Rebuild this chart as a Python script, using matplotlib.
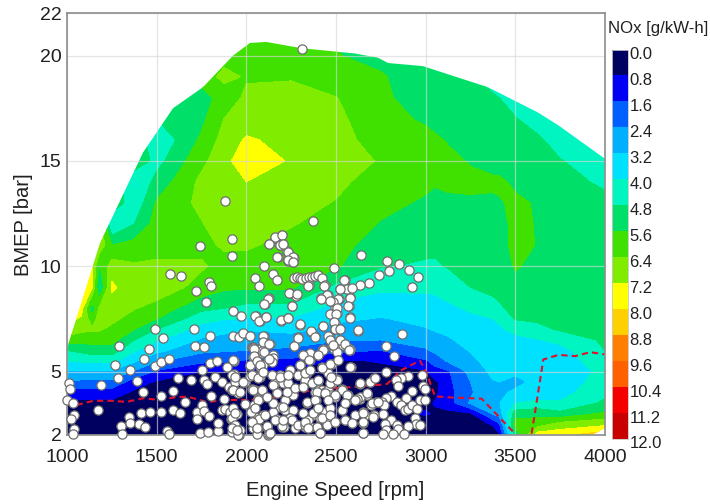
import numpy as np
import matplotlib
matplotlib.use('Agg')
import matplotlib.pyplot as plt
from matplotlib.colors import ListedColormap, BoundaryNorm
from matplotlib.patches import Polygon
from matplotlib.transforms import ScaledTranslation

plt.rcParams['font.family'] = ['Liberation Sans', 'DejaVu Sans']

# NOx map: one row per speed, one value per bmep
speed_grid = [1000, 1080, 1140, 1180, 1250, 1375, 1500, 1750, 1875, 2000, 2250, 2500,
              2750, 3000, 3050, 3125, 3250, 3375, 3410, 3500, 3625, 3750, 4000]
bmep_grid = [2, 2.5, 3, 3.5, 4, 4.5, 5, 5.5, 6, 6.5, 7, 7.5, 8,
             9, 10, 11, 12, 13, 14, 15, 16, 17, 18, 19, 20, 21]
nox_grid = [
    [.2, .3, .4, .6, 1.3, 2.4, 3.1, 4.0, 4.8, 6, 7, 7.4, 7.4, 7, 6, 6, 6, 6, 6, 6, 6, 6, 6, 6, 6, 6],
    [.2, .3, .4, .6, 1.2, 2.2, 3.1, 4.1, 5.0, 5.9, 6.6, 7.1, 7.5, 7.5, 6, 6, 6, 6, 6, 6, 6, 6, 6, 6, 6, 6],
    [.2, .3, .4, .6, 1.2, 2.2, 3.1, 4.2, 5.2, 5.9, 6.5, 6.0, 5.0, 7.3, 7.3, 7, 7, 7, 7, 7, 7, 7, 7, 7, 7, 7],
    [.2, .3, .4, .6, 1.2, 2.2, 3.1, 4.2, 5.2, 5.9, 6.5, 6.7, 6.5, 4.7, 5.5, 7, 7, 7, 7, 7, 7, 7, 7, 7, 7, 7],
    [.2, .3, .4, .6, 1.2, 2.2, 3.1, 4.2, 5.2, 5.9, 6.2, 6.6, 6.8, 7.35, 6.8, 5.6, 3.9, 5.5, 5.5, 5.5, 5.5, 5.5, 5.5, 5.5, 5.5, 5.5],
    [.2, .3, .4, .5, .65, 1.2, 2.3, 3.3, 4.1, 4.8, 5.6, 6.05, 6.45, 6.7, 6.5, 5.9, 4.8, 4.2, 3.9, 5.5, 5.5, 5.5, 5.5, 5.5, 5.5, 5.5],
    [.2, .3, .4, .5, .6, .7, 1.5, 2.5, 3.4, 4.1, 4.8, 5.6, 6.1, 6.9, 6.5, 6.2, 5.95, 5.7, 5.1, 4.5, 4.1, 4.8, 5.2, 5.2, 5.2, 5.2],
    [.2, .3, .4, .5, .6, .7, .8, 1.8, 2.6, 3.1, 3.65, 4.3, 5.0, 6.1, 6.5, 6.2, 6.35, 6.6, 6.6, 6.2, 5.75, 5.4, 5.4, 5.8, 5.8, 5.8],
    [.2, .3, .4, .5, .6, .7, .8, 1.7, 2.5, 2.95, 3.4, 4.05, 4.8, 5.75, 6.15, 6.5, 6.8, 6.9, 6.95, 6.9, 6.7, 6.4, 5.8, 6.7, 6, 6],
    [.2, .3, .4, .5, .6, .7, .7, 1.5, 2.4, 2.8, 3.25, 3.95, 4.55, 5.7, 6.1, 6.5, 6.8, 7.0, 7.2, 7.8, 7.3, 6.8, 6.6, 6.3, 5.85, 5.7],
    [.2, .3, .4, .5, .6, .7, .7, 1.4, 2.2, 2.85, 3.4, 3.9, 4.55, 5.7, 5.95, 6.15, 6.45, 6.7, 6.95, 7.1, 6.95, 6.8, 6.6, 6.35, 5.85, 5.7],
    [.2, .3, .4, .5, .6, .7, .6, .7, 1.8, 2.5, 2.95, 3.35, 3.7, 4.6, 5.7, 5.9, 6.1, 6.35, 6.6, 6.7, 6.7, 6.6, 6.42, 6, 5.65, 5.5],
    [.2, .3, .4, .5, .6, .7, .6, .85, 1.6, 2.4, 2.8, 3.15, 3.5, 4.15, 4.85, 5.2, 5.55, 5.8, 6.0, 6.35, 6.05, 5.85, 5.8, 5.7, 5.3, 5.2],
    [.2, .3, .9, .6, .4, .5, .7, 1.5, 2.3, 2.75, 3.15, 3.4, 3.65, 4.15, 4.7, 5.0, 5.25, 5.5, 5.75, 5.9, 5.8, 5.5, 5.1, 5.0, 4.9, 4.9],
    [.2, .3, .7, .85, .6, .6, 1.3, 1.9, 2.55, 2.95, 3.25, 3.45, 3.7, 4.15, 4.7, 4.95, 5.2, 5.45, 5.65, 5.8, 5.7, 5.4, 5.1, 4.95, 4.9, 4.9],
    [.2, .3, .6, 1.2, 1.3, 1.4, 1.5, 2.5, 2.85, 3.1, 3.4, 3.6, 3.85, 4.35, 4.85, 5.0, 5.15, 5.45, 5.75, 5.75, 5.55, 5.2, 5, 4.9, 4.9, 4.9],
    [.2, .3, .7, 2.5, 2.3, 2.4, 2.65, 3, 3.25, 3.5, 3.65, 3.85, 4.1, 4.8, 4.95, 5.1, 5.3, 5.5, 5.75, 5.55, 5.3, 5.1, 4.95, 4.85, 4.8, 4.8],
    [.2, .9, 2.5, 2.9, 3.0, 3.15, 3.4, 3.55, 3.65, 3.75, 3.85, 4, 4.6, 4.95, 5.05, 5.15, 5.3, 5.5, 5.7, 5.4, 5.2, 5, 4.85, 4.6, 4.6, 4.6],
    [.7, 1.5, 2.8, 3.15, 3.1, 3.2, 3.4, 3.55, 3.65, 3.8, 3.9, 4.1, 4.7, 5, 5.1, 5.2, 5.35, 5.55, 5.7, 5.35, 5.15, 5, 4.8, 4.6, 4.6, 4.6],
    [5, 6.0, 5.2, 4.0, 3.3, 3.05, 3.3, 3.5, 3.65, 3.8, 4.2, 4.85, 5.0, 5.3, 5.7, 5.9, 5.8, 5.7, 5.5, 5.1, 5, 4.85, 4.4, 4.4, 4.4, 4.4],
    [7.6, 6.0, 5.35, 4.2, 3.5, 3.35, 3.4, 3.6, 3.8, 3.95, 4.55, 4.95, 5.05, 5.2, 5.3, 5.55, 5.55, 5.55, 5.2, 5.05, 4.95, 4.4, 4.2, 4.2, 4.2, 4.2],
    [7.7, 6.7, 5.0, 4.1, 3.7, 3.5, 3.5, 3.6, 3.75, 4.2, 4.9, 5, 5.05, 5.1, 5.1, 5.1, 5.1, 5.05, 5, 4.85, 4.4, 4.1, 4.1, 4.1, 4.1, 4.1],
    [8.5, 7, 5.75, 4.95, 4.6, 4.4, 4.2, 4.45, 4.8, 4.95, 5.05, 5.1, 5.1, 5.1, 5.1, 5.1, 5, 4.95, 4.7, 4.25, 4, 4, 4, 4, 4, 4],
]

# outline of the measured region
edge_speed = [1000, 1184, 1424, 1591, 1758, 1926, 2020, 2110, 2310, 2606, 2734, 2790,
              2985, 3347, 3626, 3738, 4000, 4000, 3930, 1000]
edge_bmep = [6.1, 11.1, 15.4, 17.5, 18.5, 20, 20.6, 20.65, 20.35, 20.1, 19.9, 19.65,
             19.5, 18.5, 17.3, 16.7, 15.1, 2.3, 2, 2]

nox_levels = [0.0, 0.8, 1.6, 2.4, 3.2, 4.0, 4.8, 5.6, 6.4, 7.2, 8.0, 8.8, 9.6, 10.4, 11.2, 12.0]
nox_colors = ['#000060', '#0000f5', '#0060ff', '#00b0ff', '#00e0ff', '#00f5c0', '#00e068',
              '#40e000', '#80ec00', '#ffff00', '#ffd000', '#ff8000', '#ff6000', '#f50000', '#c80000']

# operating points
point_speed = [
    2310, 1881, 2373, 1918, 1742, 2127, 2160, 2199, 2188, 2205, 2227, 1922, 2175, 2236, 2230, 2260, 2264,
    2097, 2487, 1576, 1638, 1790, 1803, 1721, 1777, 2047, 2073, 2147, 2171, 2264, 2280, 2298, 2312, 2330,
    2350, 2366, 2385, 2400, 2420, 2348, 2437, 2550, 2242, 2279, 2255, 2418, 2454, 2125, 2106, 2524, 2543,
    2571, 2580, 2571, 2487, 2515, 2497, 2478, 2506, 2576, 1924, 1972, 2054, 2078, 2110, 2231, 2194, 2301,
    2426, 2493, 2497, 2524, 1493, 1535, 1706, 1799, 1924, 1957, 1980, 2019, 2097, 2288, 2363, 2385, 2459,
    2468, 2524, 2097, 2134, 2268, 1292, 1459, 1712, 1766, 2032, 2422, 2487, 2576, 2497, 1428, 1270, 1493,
    1526, 1567, 1353, 1283, 1390, 1191, 1424, 1617, 1591, 1753, 1796, 1837, 1930, 1892, 2022, 1692, 1762,
    1781, 1827, 1864, 1933, 1939, 1995, 1902, 1930, 1957, 1803, 1874, 1524, 1660, 1995, 1009, 1019, 1000,
    1032, 1041, 1022, 1041, 1032, 1171, 1344, 1353, 1400, 1433, 1301, 1309, 1413, 1465, 1526, 1591, 1632,
    1558, 1567, 1740, 1786, 1840, 1840, 1725, 1725, 1753, 1762, 1790, 1864, 1883, 1911, 1948, 1915, 1930,
    1939, 1920, 1959,
    1928, 1918, 1937, 1918, 1955, 1928, 1918, 1937, 1965, 1955, 1993, 2039, 2076, 2086, 2039, 2151, 2123,
    2095, 2021, 2039, 2076, 2048, 2086, 2067, 2039, 2095, 2048, 2030, 2039, 2067, 2113, 2123, 2141, 2188,
    2244, 2160, 2206, 2234, 2234, 2169, 2262, 2216, 2188, 2151, 2216, 2262, 2244, 2169, 2197, 2271, 2318,
    2327, 2299, 2290, 2337, 2355, 2318, 2355, 2402, 2430, 2476, 2504, 2541, 2578, 2476, 2420, 2457, 2508,
    2402, 2364, 2327, 2337, 2389, 2402, 2374, 2411, 2439, 2467, 2476, 2448, 2495, 2550, 2588, 2355, 2411,
    2448, 2383, 2402, 2420, 2439, 2457, 2476, 2467, 2495, 2532, 2569, 2560, 2532, 2606, 2634, 2671, 2582,
    2638, 2786, 2851, 2909, 2959, 2797, 2740, 2686, 2634, 2922, 2866, 2625, 2781, 2825, 2779, 2903, 2978,
    2863, 2833, 2714, 2690, 2634, 2848, 2987, 2996, 2926, 2890, 2968, 2996, 2671, 2634, 2615, 2807, 2779,
    2755, 2721, 2693, 2770, 2838, 2863, 2885, 2903, 2926, 2950, 2764, 2714, 2662, 2652, 2807, 2941, 2946,
    2968, 2903, 2838, 2773, 2777, 2848, 2764, 2816, 2881, 2652, 2652, 2606,
    2159, 2197, 2126, 2187, 2206, 2230, 2262, 2172, 2234, 2258, 2546, 2435, 2345, 2559, 2522, 2587, 2451,
    2414, 2239, 2280, 2122, 2098, 2252, 2578, 2568, 2513, 2485, 2466, 2503, 2466, 2500, 2578, 2048, 2072,
    2107, 2191, 2230, 2299, 2425, 2490, 2494, 2522, 2620, 2286, 2358, 2382, 2457, 2466, 2522, 2267, 2485,
    2550, 2574, 2425, 2317, 2351, 2401, 2466, 2513, 2094, 2091, 2128, 2039, 2085, 2150, 2141, 2076, 2299,
    2041, 2041, 2060, 2097, 2125, 2078, 2022, 2060, 2032, 2069, 2041, 2026, 2041, 2069, 2060, 2115, 2125,
    2060, 2171, 2208,
    1937, 1928, 1965, 1983, 2030, 2067, 2095, 2039, 2086, 2067, 2048, 2030, 2058, 2113, 1937, 1918, 1946,
    2151, 2141, 2188, 2234, 2290, 2327, 2225, 2169, 2271, 2151, 2206, 2253, 2197, 2160, 2337, 2290, 2327,
    2104, 2132, 2346, 2206, 2113,
    2327, 2355, 2420, 2318, 2364, 2401, 2466, 2503, 2531, 2392, 2438, 2494, 2559, 2383, 2457, 2606, 2671,
    2531, 2550, 2373, 2401, 2420, 2466, 2494, 2327, 2392, 2345, 2411, 2550, 2587, 2652, 2708, 2652, 2652,
    2699, 2736, 2634, 2689, 2717, 2578, 2470,
]
point_bmep = [
    20.3, 13.1, 12.15, 11.3, 10.95, 11.05, 11.35, 11.5, 11, 11.05, 10.7, 10.5, 10.42, 10.6, 10.26, 10.2, 10.4,
    10.03, 9.9, 9.65, 9.52, 9.24, 9.05, 8.84, 8.32, 9.44, 9.08, 9.63, 9.36, 9.46, 9.47, 9.43, 9.4, 9.42,
    9.47, 9.5, 9.55, 9.57, 9.45, 9.1, 9.1, 9.36, 8.73, 8.6, 8.13, 8.48, 8.63, 8.48, 8.2, 8.92, 9,
    8.92, 8.52, 8.13, 8.29, 8.45, 8.05, 7.73, 7.8, 7.58, 7.85, 7.62, 7.66, 7.39, 7.6, 7.55, 7.42, 7.23,
    7.15, 7.31, 7.02, 7.02, 7.02, 6.58, 7, 6.7, 6.68, 6.63, 6.83, 6.7, 6.7, 6.63, 6.9, 6.7, 6.7,
    6.52, 6.5, 6.42, 6.31, 6.2, 6.2, 6.08, 6.19, 6.15, 6.15, 6.04, 6.08, 6.04, 6.23, 5.6, 5.29, 5.25,
    5.44, 5.6, 5.05, 4.69, 4.54, 4.34, 4.02, 4.69, 4.07, 5.08, 5.41, 5.49, 5.52, 5.21, 5.25, 4.58, 4.58,
    4.42, 4.73, 4.5, 4.89, 4.58, 4.5, 4.26, 4.18, 4.02, 3.86, 3.71, 3.82, 3.55, 3.47, 4.46, 4.18, 3.63,
    3.52, 2.92, 2.76, 2.28, 2.05, 3.18, 2.84, 2.57, 2.52, 2.36, 2.41, 2.05, 3.04, 3.07, 3.07, 3.18, 3.04,
    2.17, 2.05, 2.08, 2.13, 2.17, 2.57, 3.07, 2.73, 3.42, 3.11, 2.88, 3.15, 3.23, 3.07, 3, 2.76, 2.44,
    2.2, 2.13, 2,
    5.54, 4.83, 4.52, 4.12, 3.96, 3.25, 2.78, 2.46, 2.22, 2, 4.52, 6.17, 6.09, 5.86, 5.7, 5.78, 5.54,
    5.3, 5.3, 4.83, 4.75, 4.12, 4.12, 3.73, 3.25, 2.94, 2.86, 2.62, 2.3, 2.3, 2.35, 2, 4.83, 4.83,
    5.07, 4.44, 4.44, 4.44, 4.04, 4.04, 3.88, 3.65, 3.33, 3.09, 3.17, 3.17, 2.78, 2.7, 2.38, 2.3, 3.01,
    2.38, 5.3, 4.83, 4.91, 5.54, 5.78, 5.86, 5.78, 6.09, 6.25, 5.94, 6.25, 6.05, 5.38, 5.23, 4.91, 4.63,
    4.56, 4.44, 4.52, 3.52, 3.65, 3.25, 2.94, 2.78, 3.09, 3.25, 2.7, 2.54, 2.62, 2.7, 2.54, 2.35, 2.1,
    2.46, 4.04, 4.12, 4.12, 4.04, 4.12, 4.44, 3.88, 3.8, 4.15, 3.88, 3.65, 3.17, 3.65, 3.68, 3.93, 5.2,
    10.53, 10.26, 10.1, 9.82, 9.47, 9.76, 9.6, 9.2, 9.1, 9, 6.79, 6.94, 6.2, 5.76, 4.97, 4.81, 4.84,
    4.69, 4.62, 4.7, 4.5, 4.42, 4.29, 4.29, 4.18, 4.07, 3.75, 3.67, 3.67, 3.9, 3.79, 3.7, 3.82, 3.75,
    3.55, 3.55, 3.42, 3.39, 3.55, 3.39, 3.15, 3.23, 3.39, 3.23, 3, 2.92, 2.92, 3.07, 2.71, 2.8, 2.52,
    2.44, 2.41, 2.44, 2.49, 2.2, 2.28, 2.05, 2.05, 2.05, 2.08, 2.57, 2.92,
    11.38, 11.5, 11.04, 10.99, 11.04, 10.67, 10.44, 10.44, 10.28, 10.2, 9.35, 9.08, 9.08, 8.9, 8.92, 8.95, 8.65,
    8.45, 8.73, 8.68, 8.45, 8.2, 8.13, 8.48, 8.13, 8.45, 8.29, 8.35, 8.02, 7.75, 7.75, 7.56, 7.64, 7.4,
    7.59, 7.43, 7.55, 7.25, 7.17, 7.36, 7.04, 7.04, 6.96, 6.61, 6.91, 6.65, 6.68, 6.49, 6.52, 6.2, 6.25,
    6.3, 6.04, 6.0, 5.78, 5.54, 5.78, 5.38, 5.54, 6.7, 6.41, 6.3, 6.14, 5.98, 5.62, 5.46, 5.2, 5.3,
    6.08, 5.76, 5.52, 5.92, 5.6, 5.29, 4.81, 4.73, 4.18, 3.71, 3.39, 3.07, 2.6, 2.76, 2.28, 2.36, 2.05,
    2.05, 2.76, 2.36,
    4.75, 4.12, 4.04, 4.52, 4.83, 4.67, 4.99, 4.12, 4.12, 3.65, 3.25, 2.62, 2.31, 2.39, 3.02, 2.31, 2.23,
    4.36, 4.83, 4.75, 4.83, 4.83, 4.6, 4.04, 3.96, 4.2, 3.49, 3.33, 2.7, 2.39, 2.7, 3.57, 2.47, 2.47,
    2.94, 2.07, 2.7, 2.7, 3.81,
    4.91, 5.07, 5.15, 4.28, 4.44, 4.6, 4.44, 4.6, 4.12, 4.04, 3.96, 3.88, 3.88, 3.65, 3.65, 3.65, 3.96,
    3.17, 3.49, 3.02, 3.25, 2.77, 2.94, 2.62, 2.62, 2.38, 2.31, 2.1, 2.7, 2.54, 3.02, 2.86, 2.62, 2.07,
    3.49, 3.57, 4.44, 4.52, 4.7, 5.2, 4.76,
]

# dashed limit lines
limit_speed_a = [1054, 1147, 1240, 1334, 1425, 1518, 1611, 1675, 1780, 1892, 2020, 2113, 2281, 2355,
                 2615, 2783, 2866, 2968, 3006, 3052, 3136, 3312, 3498]
limit_bmep_a = [3.41, 3.61, 3.61, 3.56, 3.73, 3.65, 3.79, 3.8, 3.55, 3.65, 3.65, 3.73, 3.88, 4.12,
                4.28, 4.4, 5.07, 5.52, 4.91, 3.82, 3.77, 3.71, 2.05]
limit_speed_b = [3591, 3656, 3740, 3833, 3917, 4000]
limit_bmep_b = [2.05, 5.57, 5.79, 5.73, 5.92, 5.81]

x_ticks = [1000, 1500, 2000, 2500, 3000, 3500, 4000]
y_ticks = [2, 5, 10, 15, 20, 22]

fig = plt.figure(figsize=(7.1, 5.04), dpi=100)
ax = fig.add_axes([67 / 710, 1 - 434.7 / 504, 538 / 710, 421.2 / 504])

cmap = ListedColormap(nox_colors)
norm = BoundaryNorm(nox_levels, cmap.N)
cs = ax.contourf(speed_grid, bmep_grid, np.array(nox_grid).T, levels=nox_levels,
                 cmap=cmap, norm=norm, zorder=1)
cs.set_clip_path(Polygon(np.column_stack([edge_speed, edge_bmep]), transform=ax.transData))

ax.set_xlim(1000, 4000)
ax.set_ylim(2, 22)
ax.set_xticks(x_ticks)
ax.set_yticks(y_ticks)
ax.tick_params(length=0, labelsize=14, colors='#202020')
ax.tick_params(axis='x', pad=10)
ax.tick_params(axis='y', pad=4)
ax.grid(True, color='#d8d8d8', linewidth=0.9, alpha=0.65, zorder=2)
ax.set_axisbelow(False)
for sp in ax.spines.values():
    sp.set_color('#8c8c8c')
    sp.set_linewidth(1.2)
    sp.set_zorder(3)

ax.plot(limit_speed_a, limit_bmep_a, color='#e0102a', linestyle='--', linewidth=1.5,
        dashes=(3, 2), zorder=3)
ax.plot(limit_speed_b, limit_bmep_b, color='#e0102a', linestyle='--', linewidth=1.5,
        dashes=(3, 2), zorder=3)
ax.scatter(point_speed, point_bmep, s=44, facecolor='white', edgecolor='#6e6e6e',
           linewidth=0.9, zorder=4, clip_on=False)

fig.text(335 / 710, 1 - 491 / 504, 'Engine Speed [rpm]', ha='center', va='center',
         fontsize=14.5, color='#202020')
fig.text(24 / 710, 1 - 225 / 504, 'BMEP [bar]', ha='center', va='center', rotation=90,
         fontsize=14.5, color='#202020')

# colour bar, 0 at the top, labels sit a little under each band edge
cax = fig.add_axes([612 / 710, 1 - 439 / 504, 16 / 710, 389.5 / 504])
cb = fig.colorbar(cs, cax=cax, ticks=nox_levels, spacing='uniform')
cax.invert_yaxis()
cax.tick_params(length=0, labelsize=12, pad=1, colors='#202020')
cax.set_yticklabels([f'{v:.1f}' for v in nox_levels])
label_shift = ScaledTranslation(0, -3.5 / 100, fig.dpi_scale_trans)
for lab in cax.get_yticklabels():
    lab.set_transform(lab.get_transform() + label_shift)
cb.outline.set_edgecolor('#c8c8c8')
cb.outline.set_linewidth(0.6)
fig.text(608 / 710, 1 - 29 / 504, 'NOx [g/kW-h]', ha='left', va='center', fontsize=12.1,
         color='#202020')

fig.savefig('out.png', dpi=100)
